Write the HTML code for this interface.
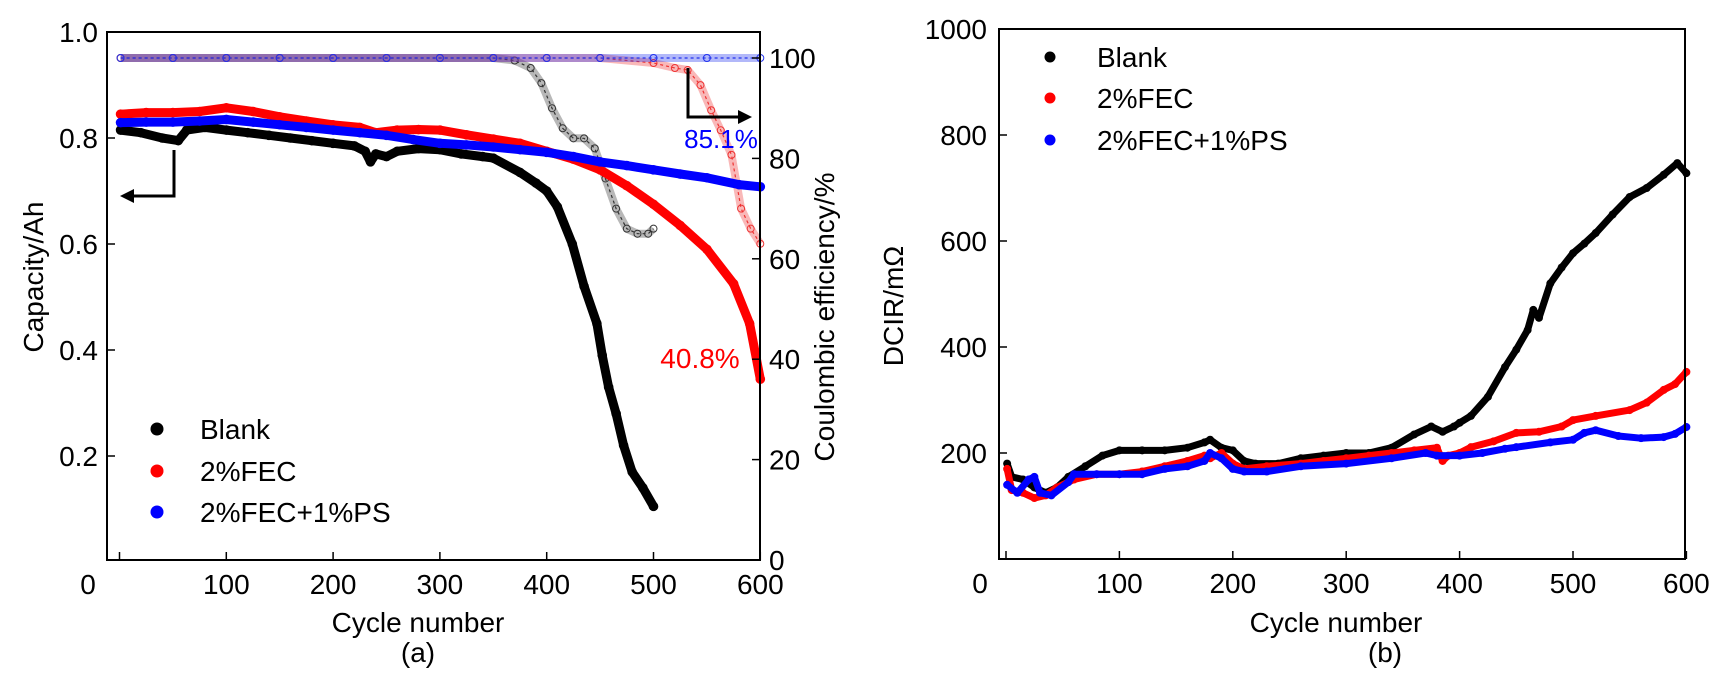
<!DOCTYPE html>
<html><head><meta charset="utf-8"><style>
html,body{margin:0;padding:0;background:#fff;}
svg{display:block;font-family:"Liberation Sans",Arial,sans-serif;}
</style></head><body>
<svg id="fig" width="1727" height="687" viewBox="0 0 1727 687" xmlns="http://www.w3.org/2000/svg">
<g id="chartA"></g>
<g id="chartB"></g>
</svg>
<script>
// ---- Chart (a) data ----
const blankCyc = [1,20,40,55,63,80,100,120,140,160,180,200,220,230,235,240,250,260,280,300,320,340,350,375,390,400,410,424,435,447,452,458,465,472,480,490,500];
const blankCap = [0.815,0.81,0.80,0.795,0.815,0.82,0.815,0.81,0.805,0.80,0.795,0.79,0.785,0.775,0.755,0.77,0.765,0.775,0.78,0.778,0.77,0.765,0.762,0.735,0.715,0.70,0.67,0.60,0.52,0.45,0.39,0.33,0.28,0.22,0.17,0.14,0.105];
const fecCyc = [1,25,50,75,100,125,150,175,200,225,240,260,280,300,325,350,375,400,425,450,475,500,525,550,575,590,600];
const fecCap = [0.845,0.848,0.848,0.85,0.857,0.85,0.84,0.832,0.825,0.82,0.81,0.815,0.816,0.815,0.806,0.798,0.79,0.775,0.76,0.74,0.71,0.675,0.635,0.59,0.525,0.45,0.345];
const psCyc = [1,25,50,75,100,125,150,175,200,225,250,275,300,325,350,375,400,425,450,475,500,525,550,580,600];
const psCap = [0.829,0.83,0.83,0.832,0.835,0.83,0.825,0.82,0.815,0.81,0.805,0.797,0.79,0.787,0.783,0.778,0.773,0.765,0.755,0.748,0.74,0.732,0.725,0.712,0.708];
const ceBlankCyc = [1,50,100,150,200,250,300,350,370,385,395,405,415,425,435,445,455,465,475,485,495,500];
const ceBlankVal = [100,100,100,100,100,100,100,100,99.5,98,95,90,86,84,84,82,76,70,66,65,65,66];
const ceFecCyc = [1,50,100,150,200,250,300,350,400,450,500,520,532,544,554,563,573,582,591,600];
const ceFecVal = [100,100,100,100,100,100,100,100,100,100,99,98,97.6,94.6,89.6,85.6,80.7,70,66,63];
const cePsCyc = [1,50,100,150,200,250,300,350,400,450,500,550,600];
const cePsVal = [100,100,100,100,100,100,100,100,100,100,100,100,100];
const xTicksA = [0,100,200,300,400,500,600];
const yTicksA = [0.2,0.4,0.6,0.8,1.0];
const yTicksA2 = [0,20,40,60,80,100];
// ---- Chart (b) data ----
const dBlankCyc = [1,5,15,25,35,45,55,70,85,100,120,140,160,175,180,190,200,210,220,240,260,280,300,320,340,360,375,385,395,400,410,425,440,450,460,465,470,480,490,500,510,520,535,550,565,580,592,600];
const dBlankVal = [180,155,150,135,125,135,155,175,195,205,205,205,210,220,225,210,205,185,180,180,190,195,200,200,210,235,250,240,250,257,270,306,362,395,432,470,455,520,550,577,595,615,650,683,700,725,747,728];
const dFecCyc = [1,5,15,25,35,45,60,80,100,120,140,160,175,180,190,200,210,230,260,280,300,320,340,360,380,385,390,400,410,430,450,470,490,500,520,550,565,580,590,600];
const dFecVal = [170,130,125,115,120,135,150,160,160,165,175,185,195,190,200,180,170,175,180,185,190,195,200,205,210,185,195,200,211,222,238,240,250,262,270,281,295,319,330,353];
const dPsCyc = [1,10,20,25,30,40,55,60,80,100,120,140,160,175,180,190,200,210,230,260,300,340,370,380,400,420,440,450,480,500,510,520,540,560,580,590,600];
const dPsVal = [140,125,150,155,125,120,145,160,160,160,160,170,175,185,200,190,170,165,165,175,180,190,200,195,195,200,208,211,220,225,238,243,232,228,230,236,249];
const xTicksB = [0,100,200,300,400,500,600];
const yTicksB = [200,400,600,800,1000];

const NS = "http://www.w3.org/2000/svg";
function mk(parent, tag, attrs, text) {
  const e = document.createElementNS(NS, tag);
  for (const k in attrs) e.setAttribute(k, attrs[k]);
  if (text !== undefined) e.textContent = text;
  parent.appendChild(e);
  return e;
}
const RED = "#ff0000", BLUE = "#0000ff", BLK = "#000000";

// ---- Chart (a) ----
const A = document.getElementById("chartA");
const ax = c => 119.5 + c * 1.068;
const ay = v => 562 - v * 530;
const ay2 = p => 560 - p * 5.02;

function capSeries(g, cyc, vals, color, name) {
  const grp = mk(g, "g", {});
  
  
  const pts = cyc.map((c, i) => ax(c).toFixed(1) + "," + ay(vals[i]).toFixed(1)).join(" ");
  mk(grp, "polyline", {points: pts, fill: "none", stroke: color, "stroke-width": 9, "stroke-linejoin": "round", "stroke-linecap": "round"});
  cyc.forEach((c, i) => {
    const d = mk(grp, "circle", {cx: ax(c), cy: ay(vals[i]), r: 4.8, fill: color});
    
    
  });
}
function ceSeries(g, cyc, vals, color, name) {
  const grp = mk(g, "g", {});
  
  
  const pts = cyc.map((c, i) => ax(c).toFixed(1) + "," + ay2(vals[i]).toFixed(1)).join(" ");
  mk(grp, "polyline", {points: pts, fill: "none", stroke: color, "stroke-width": 8, "stroke-opacity": 0.35, "stroke-linejoin": "round"});
  mk(grp, "polyline", {points: pts, fill: "none", stroke: color, "stroke-width": 1.2, "stroke-dasharray": "3 3"});
  cyc.forEach((c, i) => {
    const d = mk(grp, "circle", {cx: ax(c), cy: ay2(vals[i]), r: 3.5, fill: "none", stroke: color, "stroke-width": 1});
    
    
  });
}
ceSeries(A, ceBlankCyc, ceBlankVal, "#333", "ce-blank-series");
ceSeries(A, ceFecCyc, ceFecVal, "#ee3333", "ce-fec-series");
ceSeries(A, cePsCyc, cePsVal, "#2233ee", "ce-fec-ps-series");
capSeries(A, blankCyc, blankCap, BLK, "capacity-blank-series");
capSeries(A, fecCyc, fecCap, RED, "capacity-fec-series");
capSeries(A, psCyc, psCap, BLUE, "capacity-fec-ps-series");

const frA = mk(A, "rect", {x: 107, y: 32, width: 653, height: 528, fill: "none", stroke: "#000", "stroke-width": 2});


xTicksA.forEach(t => {
  mk(A, "line", {x1: ax(t), x2: ax(t), y1: 560, y2: 552, stroke: "#000", "stroke-width": 1.5});
  const lx = t === 0 ? 88 : ax(t);
  const l = mk(A, "text", {x: lx, y: 594, "font-size": 28, "text-anchor": "middle"}, String(t));
  
  
});
yTicksA.forEach(t => {
  mk(A, "line", {x1: 107, x2: 115, y1: ay(t), y2: ay(t), stroke: "#000", "stroke-width": 1.5});
  const l = mk(A, "text", {x: 98, y: ay(t) + 10, "font-size": 28, "text-anchor": "end"}, t.toFixed(1));
  
  
});
yTicksA2.forEach(t => {
  mk(A, "line", {x1: 760, x2: 752, y1: ay2(t), y2: ay2(t), stroke: "#000", "stroke-width": 1.5});
  const l = mk(A, "text", {x: 769, y: ay2(t) + 10, "font-size": 28}, String(t));
  
  
});
</script>
<!-- static labels chart (a) -->
<svg width="0" height="0"></svg>
<script>
(function(){
const A = document.getElementById("chartA");
function t(attrs, txt, name){ const e = mk(A, "text", attrs, txt);   return e; }
t({x: 0, y: 0, "font-size": 28, "text-anchor": "middle", transform: "translate(43,277) rotate(-90)"}, "Capacity/Ah", "y-axis-title");
t({x: 0, y: 0, "font-size": 28, "text-anchor": "middle", transform: "translate(834,317) rotate(-90)"}, "Coulombic efficiency/%", "y2-axis-title");
t({x: 418, y: 632, "font-size": 28, "text-anchor": "middle"}, "Cycle number", "x-axis-title");
t({x: 418, y: 662, "font-size": 28, "text-anchor": "middle"}, "(a)", "panel-label-a");
t({x: 721, y: 148, "font-size": 26, "text-anchor": "middle", fill: BLUE}, "85.1%", "retention-fec-ps-label");
t({x: 700, y: 368, "font-size": 28, "text-anchor": "middle", fill: RED}, "40.8%", "retention-fec-label");
// arrows
const ar1 = mk(A, "path", {d: "M174,150 V196 H132", fill: "none", stroke: "#000", "stroke-width": 3});
 
mk(A, "polygon", {points: "120,196 134,189 134,203", fill: "#000"});
const ar2 = mk(A, "path", {d: "M688,68 V117 H740", fill: "none", stroke: "#000", "stroke-width": 3});
 
mk(A, "polygon", {points: "752,117 738,110 738,124", fill: "#000"});
// legend
const legA = [["Blank", BLK, 429], ["2%FEC", RED, 471], ["2%FEC+1%PS", BLUE, 512]];
legA.forEach(([n, c, y]) => {
  const g = mk(A, "g", {});
  
  
  mk(g, "circle", {cx: 157, cy: y, r: 6.5, fill: c});
  mk(g, "text", {x: 200, y: y + 10, "font-size": 28}, n);
});

// ---- Chart (b) ----
const B = document.getElementById("chartB");
const bx = c => 1006 + c * 1.134;
const by = v => 559 - v * 0.53;
function dSeries(cyc, vals, color, name) {
  const grp = mk(B, "g", {});
  
  
  const pts = cyc.map((c, i) => bx(c).toFixed(1) + "," + by(vals[i]).toFixed(1)).join(" ");
  mk(grp, "polyline", {points: pts, fill: "none", stroke: color, "stroke-width": 7, "stroke-linejoin": "round", "stroke-linecap": "round"});
  cyc.forEach((c, i) => {
    const d = mk(grp, "circle", {cx: bx(c), cy: by(vals[i]), r: 4, fill: color});
    
    
  });
}
dSeries(dBlankCyc, dBlankVal, BLK, "dcir-blank-series");
dSeries(dFecCyc, dFecVal, RED, "dcir-fec-series");
dSeries(dPsCyc, dPsVal, BLUE, "dcir-fec-ps-series");
const frB = mk(B, "rect", {x: 999, y: 29, width: 686, height: 530, fill: "none", stroke: "#000", "stroke-width": 2});


xTicksB.forEach(v => {
  mk(B, "line", {x1: bx(v), x2: bx(v), y1: 559, y2: 551, stroke: "#000", "stroke-width": 1.5});
  const lx = v === 0 ? 980 : bx(v);
  const l = mk(B, "text", {x: lx, y: 593, "font-size": 28, "text-anchor": "middle"}, String(v));
  
  
});
yTicksB.forEach(v => {
  mk(B, "line", {x1: 999, x2: 1007, y1: by(v), y2: by(v), stroke: "#000", "stroke-width": 1.5});
  const l = mk(B, "text", {x: 987, y: by(v) + 10, "font-size": 28, "text-anchor": "end"}, String(v));
  
  
});
function tb(attrs, txt, name){ const e = mk(B, "text", attrs, txt);   return e; }
tb({x: 0, y: 0, "font-size": 28, "text-anchor": "middle", transform: "translate(903,306) rotate(-90)"}, "DCIR/mΩ", "y-axis-title");
tb({x: 1336, y: 632, "font-size": 28, "text-anchor": "middle"}, "Cycle number", "x-axis-title");
tb({x: 1385, y: 662, "font-size": 28, "text-anchor": "middle"}, "(b)", "panel-label-b");
const legB = [["Blank", BLK, 57], ["2%FEC", RED, 98], ["2%FEC+1%PS", BLUE, 140]];
legB.forEach(([n, c, y]) => {
  const g = mk(B, "g", {});
  
  
  mk(g, "circle", {cx: 1050, cy: y, r: 5.5, fill: c});
  mk(g, "text", {x: 1097, y: y + 10, "font-size": 28}, n);
});
})();
</script>
</body></html>
